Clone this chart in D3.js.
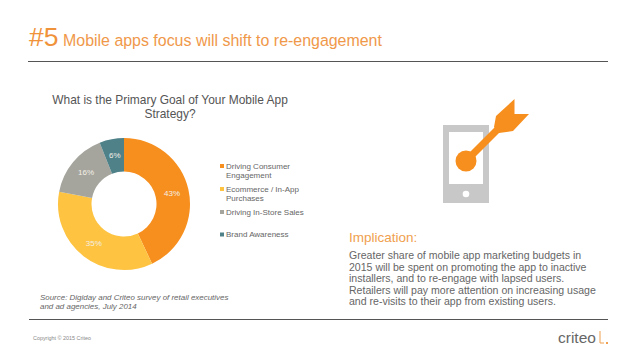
<!DOCTYPE html>
<html><head><meta charset="utf-8">
<script src="https://cdn.jsdelivr.net/npm/d3@7"></script>
<style>html,body{margin:0;padding:0;background:#fff}svg{display:block}text{font-family:"Liberation Sans",Arial,sans-serif}</style>
</head><body><svg id="c" width="638" height="359"></svg>
<script>
const categories=["Driving Consumer Engagement","Ecommerce / In-App Purchases","Driving In-Store Sales","Brand Awareness"];
const values=[43,35,16,6];
const colors=["#f78f1e","#fdc341","#a5a59d","#4f8189"];
const legendLines=[["Driving Consumer","Engagement"],["Ecommerce / In-App","Purchases"],["Driving In-Store Sales"],["Brand Awareness"]];
const legendY=[166,189,212,234.5];
const titleLines=["What is the Primary Goal of Your Mobile App","Strategy?"];
const bodyLines=["Greater share of mobile app marketing budgets in","2015 will be spent on promoting the app to inactive","installers, and to re-engage with lapsed users.","Retailers will pay more attention on increasing usage","and re-visits to their app from existing users."];
const sourceLines=["Source: Digiday and Criteo survey of retail executives","and ad agencies, July 2014"];

const svg=d3.select("#c");
const T=(x,y,s,size,fill,extra={})=>{const t=svg.append("text").attr("x",x).attr("y",y).attr("font-size",size).attr("fill",fill).text(s);
  for(const k in extra)t.attr(k,extra[k]);return t;};

// header
T(29,46,"#5",26.5,"#f0923a");
T(63,46,"Mobile apps focus will shift to re-engagement",15.95,"#f0984a");
svg.append("line").attr("x1",28).attr("x2",608).attr("y1",61.5).attr("y2",61.5).attr("stroke","#555");
svg.append("line").attr("x1",29).attr("x2",608).attr("y1",319.5).attr("y2",319.5).attr("stroke","#555");

// chart title
titleLines.forEach((s,i)=>T(170,103.5+i*14,s,11.95,"#555",{"text-anchor":"middle"}));

// donut
const g=svg.append("g").attr("transform","translate(124,204)");
const pie=d3.pie().sort(null)(values);
const arc=d3.arc().innerRadius(32.5).outerRadius(66);
g.selectAll("path").data(pie).join("path").attr("d",arc).attr("fill",(d,i)=>colors[i]);
g.selectAll("text").data(pie).join("text").attr("transform",d=>`translate(${arc.centroid(d)})`)
 .attr("text-anchor","middle").attr("dy","0.35em").attr("font-size",8).attr("fill","#f4efe6").text(d=>d.data+"%");

// legend
categories.forEach((c,i)=>{
  svg.append("rect").attr("x",220).attr("y",legendY[i]-2).attr("width",4).attr("height",4).attr("fill",colors[i]);
  legendLines[i].forEach((s,j)=>T(226,legendY[i]+2.5+j*9.5,s,8,"#666"));
});

// icon
svg.append("rect").attr("x",443).attr("y",125).attr("width",46).attr("height",78).attr("fill","#c8c8c8");
svg.append("rect").attr("x",449).attr("y",132).attr("width",34).attr("height",52).attr("fill","#fff");
svg.append("circle").attr("cx",466).attr("cy",194).attr("r",3.3).attr("fill","#fff");
svg.append("line").attr("x1",466).attr("y1",161).attr("x2",502).attr("y2",125).attr("stroke","#f78f1e").attr("stroke-width",7);
svg.append("circle").attr("cx",466).attr("cy",161).attr("r",10.5).attr("fill","#f78f1e");
svg.append("path").attr("d","M514.5,99L514.5,114L529,114L513,131L499,133L494,127L496,116Z").attr("fill","#f78f1e");

// implication
T(349,241.5,"Implication:",13.5,"#f0a04e");
bodyLines.forEach((s,i)=>T(349,259+i*11.6,s,10.55,"#666"));
sourceLines.forEach((s,i)=>T(40,299.5+i*9,s,7.95,"#666",{"font-style":"italic"}));
T(33,340,"Copyright © 2015 Criteo",5.4,"#888");

// logo
T(558,343,"criteo",15.5,"#666");
svg.append("path").attr("d","M600,331V343H604").attr("fill","none").attr("stroke","#f0a04e").attr("stroke-width",1);
svg.append("rect").attr("x",606).attr("y",342).attr("width",2).attr("height",2).attr("fill","#f0a04e");
</script></body></html>
